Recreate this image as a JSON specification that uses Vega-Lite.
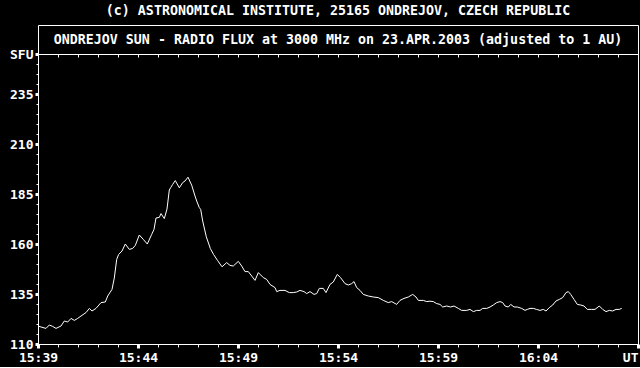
{
  "$schema": "https://vega.github.io/schema/vega-lite/v6.json",
  "background": "black",
  "padding": {"left": 9, "top": 4, "right": 2, "bottom": 2},
  "bounds": "flush",
  "spacing": 0,
  "title": {
    "text": "(c) ASTRONOMICAL INSTITUTE, 25165 ONDREJOV, CZECH REPUBLIC",
    "color": "white",
    "font": "DejaVu Sans Mono",
    "fontSize": 13.3,
    "fontWeight": "bold",
    "offset": 7,
    "anchor": "middle",
    "frame": "group"
  },
  "config": {
    "view": {"stroke": "white", "strokeWidth": 1},
    "font": "DejaVu Sans Mono",
    "axis": {
      "labelFont": "DejaVu Sans Mono",
      "labelFontSize": 13,
      "labelFontWeight": "bold",
      "labelColor": "white",
      "tickColor": "white",
      "domainColor": "white",
      "domainWidth": 1,
      "domain": true,
      "grid": false,
      "title": null,
      "labelOverlap": false,
      "labelFlush": false,
      "labelBound": false
    }
  },
  "vconcat": [
    {
      "width": 600,
      "height": 29,
      "view": {"stroke": "white", "strokeWidth": 1},
      "data": {"values": [{"label": "ONDREJOV SUN - RADIO FLUX at 3000 MHz on 23.APR.2003 (adjusted to 1 AU)"}]},
      "mark": {"type": "text", "color": "white", "font": "DejaVu Sans Mono", "fontSize": 13.3, "fontWeight": "bold"},
      "encoding": {"text": {"field": "label"}}
    },
    {
      "width": 600,
      "height": 290,
      "view": {"stroke": "white", "strokeWidth": 1},
      "data": {"values": [
        {"minute": 0.0, "sfu": 119}, {"minute": 0.15, "sfu": 118.5}, {"minute": 0.4, "sfu": 117.8}, {"minute": 0.565, "sfu": 119.5},
        {"minute": 0.735, "sfu": 118.8}, {"minute": 0.9, "sfu": 117.8}, {"minute": 1.15, "sfu": 119}, {"minute": 1.315, "sfu": 121.5},
        {"minute": 1.485, "sfu": 121}, {"minute": 1.65, "sfu": 122.8}, {"minute": 1.815, "sfu": 121.8}, {"minute": 1.985, "sfu": 122.8},
        {"minute": 2.15, "sfu": 124}, {"minute": 2.4, "sfu": 125.7}, {"minute": 2.565, "sfu": 127.8}, {"minute": 2.7, "sfu": 126.5},
        {"minute": 2.9, "sfu": 127.8}, {"minute": 3.15, "sfu": 130.7}, {"minute": 3.365, "sfu": 131}, {"minute": 3.485, "sfu": 134},
        {"minute": 3.7, "sfu": 137.3}, {"minute": 3.815, "sfu": 143}, {"minute": 3.935, "sfu": 152.3}, {"minute": 4.035, "sfu": 154.8},
        {"minute": 4.2, "sfu": 156.5}, {"minute": 4.365, "sfu": 160}, {"minute": 4.565, "sfu": 157.3}, {"minute": 4.735, "sfu": 157.8},
        {"minute": 4.865, "sfu": 159.3}, {"minute": 5.065, "sfu": 164.5}, {"minute": 5.265, "sfu": 162.3}, {"minute": 5.465, "sfu": 160},
        {"minute": 5.685, "sfu": 164.8}, {"minute": 5.8, "sfu": 167.3}, {"minute": 5.9, "sfu": 173}, {"minute": 6.065, "sfu": 173.3},
        {"minute": 6.15, "sfu": 175.2}, {"minute": 6.315, "sfu": 172.7}, {"minute": 6.45, "sfu": 177.5}, {"minute": 6.565, "sfu": 187},
        {"minute": 6.635, "sfu": 188.2}, {"minute": 6.735, "sfu": 189.8}, {"minute": 6.865, "sfu": 191.7}, {"minute": 7.065, "sfu": 188.1},
        {"minute": 7.235, "sfu": 190.7}, {"minute": 7.35, "sfu": 191.5}, {"minute": 7.5, "sfu": 193.4}, {"minute": 7.685, "sfu": 189.4},
        {"minute": 7.85, "sfu": 184}, {"minute": 7.935, "sfu": 181.5}, {"minute": 8.065, "sfu": 178.2}, {"minute": 8.135, "sfu": 177.3},
        {"minute": 8.235, "sfu": 171.5}, {"minute": 8.415, "sfu": 163.6}, {"minute": 8.615, "sfu": 157.8}, {"minute": 8.775, "sfu": 154.8},
        {"minute": 8.975, "sfu": 151.8}, {"minute": 9.2, "sfu": 148.6}, {"minute": 9.435, "sfu": 150.7}, {"minute": 9.6, "sfu": 149.3},
        {"minute": 9.765, "sfu": 149}, {"minute": 9.85, "sfu": 149.8}, {"minute": 10.015, "sfu": 151.3}, {"minute": 10.185, "sfu": 149},
        {"minute": 10.35, "sfu": 146.2}, {"minute": 10.515, "sfu": 146.2}, {"minute": 10.685, "sfu": 144}, {"minute": 10.85, "sfu": 141.8},
        {"minute": 11.015, "sfu": 145.7}, {"minute": 11.265, "sfu": 143.2}, {"minute": 11.435, "sfu": 142.3}, {"minute": 11.6, "sfu": 139.8},
        {"minute": 11.85, "sfu": 138.2}, {"minute": 11.935, "sfu": 136.2}, {"minute": 12.1, "sfu": 136.8}, {"minute": 12.35, "sfu": 136.8},
        {"minute": 12.565, "sfu": 135.7}, {"minute": 12.765, "sfu": 135.7}, {"minute": 12.935, "sfu": 136}, {"minute": 13.1, "sfu": 136.8},
        {"minute": 13.3, "sfu": 136.2}, {"minute": 13.435, "sfu": 135.2}, {"minute": 13.6, "sfu": 136.2}, {"minute": 13.8, "sfu": 134.8},
        {"minute": 13.935, "sfu": 135.2}, {"minute": 14.065, "sfu": 137.8}, {"minute": 14.265, "sfu": 137.8}, {"minute": 14.4, "sfu": 135.7},
        {"minute": 14.6, "sfu": 139.8}, {"minute": 14.765, "sfu": 141}, {"minute": 14.965, "sfu": 144.8}, {"minute": 15.125, "sfu": 143.2},
        {"minute": 15.35, "sfu": 140.2}, {"minute": 15.515, "sfu": 139.5}, {"minute": 15.685, "sfu": 140.2}, {"minute": 15.8, "sfu": 141.2},
        {"minute": 15.935, "sfu": 138.2}, {"minute": 16.1, "sfu": 136.8}, {"minute": 16.265, "sfu": 134.8}, {"minute": 16.515, "sfu": 134},
        {"minute": 16.765, "sfu": 133.5}, {"minute": 17.015, "sfu": 133.2}, {"minute": 17.265, "sfu": 131.8}, {"minute": 17.515, "sfu": 130.7},
        {"minute": 17.685, "sfu": 131.2}, {"minute": 17.935, "sfu": 129.8}, {"minute": 18.1, "sfu": 131.8}, {"minute": 18.3, "sfu": 132.8},
        {"minute": 18.515, "sfu": 133.5}, {"minute": 18.735, "sfu": 134.8}, {"minute": 18.9, "sfu": 133.5}, {"minute": 19.015, "sfu": 131.8},
        {"minute": 19.265, "sfu": 131.8}, {"minute": 19.435, "sfu": 131.2}, {"minute": 19.6, "sfu": 131.4}, {"minute": 19.765, "sfu": 131.2},
        {"minute": 19.935, "sfu": 130.2}, {"minute": 20.1, "sfu": 129.8}, {"minute": 20.235, "sfu": 128.5}, {"minute": 20.435, "sfu": 129},
        {"minute": 20.635, "sfu": 128.5}, {"minute": 20.8, "sfu": 129}, {"minute": 21.015, "sfu": 127.8}, {"minute": 21.185, "sfu": 126.8},
        {"minute": 21.435, "sfu": 126.8}, {"minute": 21.6, "sfu": 127.3}, {"minute": 21.765, "sfu": 126.2}, {"minute": 21.935, "sfu": 126.8},
        {"minute": 22.1, "sfu": 126.8}, {"minute": 22.235, "sfu": 127.8}, {"minute": 22.435, "sfu": 127.8}, {"minute": 22.6, "sfu": 128.5},
        {"minute": 22.765, "sfu": 129.5}, {"minute": 22.935, "sfu": 130.7}, {"minute": 23.1, "sfu": 131.2}, {"minute": 23.235, "sfu": 130.7},
        {"minute": 23.35, "sfu": 129}, {"minute": 23.515, "sfu": 128.5}, {"minute": 23.635, "sfu": 129.8}, {"minute": 23.8, "sfu": 128.5},
        {"minute": 23.965, "sfu": 128.5}, {"minute": 24.185, "sfu": 127.8}, {"minute": 24.35, "sfu": 126.8}, {"minute": 24.465, "sfu": 127.3},
        {"minute": 24.6, "sfu": 127.8}, {"minute": 24.765, "sfu": 127.8}, {"minute": 24.925, "sfu": 127.3}, {"minute": 25.1, "sfu": 126.8},
        {"minute": 25.265, "sfu": 127.3}, {"minute": 25.4, "sfu": 126.5}, {"minute": 25.565, "sfu": 128.2}, {"minute": 25.735, "sfu": 129.5},
        {"minute": 25.9, "sfu": 131.5}, {"minute": 26.065, "sfu": 132.3}, {"minute": 26.235, "sfu": 133.2}, {"minute": 26.4, "sfu": 135.7},
        {"minute": 26.515, "sfu": 136.2}, {"minute": 26.635, "sfu": 134.8}, {"minute": 26.8, "sfu": 132.3}, {"minute": 26.965, "sfu": 129.8},
        {"minute": 27.135, "sfu": 129.5}, {"minute": 27.3, "sfu": 129}, {"minute": 27.465, "sfu": 127.3}, {"minute": 27.685, "sfu": 127.3},
        {"minute": 27.85, "sfu": 127.3}, {"minute": 28.065, "sfu": 129}, {"minute": 28.235, "sfu": 127.3}, {"minute": 28.4, "sfu": 126.2},
        {"minute": 28.565, "sfu": 126.8}, {"minute": 28.735, "sfu": 126.5}, {"minute": 28.9, "sfu": 127.3}, {"minute": 29.065, "sfu": 127.3},
        {"minute": 29.185, "sfu": 127.8}
      ]},
      "resolve": {"axis": {"x": "independent", "y": "independent"}},
      "layer": [
        {
          "mark": {"type": "line", "color": "white", "strokeWidth": 1},
          "encoding": {
            "x": {
              "field": "minute", "type": "quantitative",
              "scale": {"domain": [0, 30], "nice": false, "zero": false},
              "axis": {
                "orient": "bottom",
                "values": [0, 5, 10, 15, 20, 25, 30],
                "labelExpr": "['15:39','15:44','15:49','15:54','15:59','16:04','UT'][round(datum.value/5)]",
                "labelAlign": {"condition": {"test": "datum.value == 30", "value": "right"}, "value": "center"},
                "tickSize": 4, "tickWidth": 3, "labelPadding": 3
              }
            },
            "y": {
              "field": "sfu", "type": "quantitative",
              "scale": {"domain": [110, 255], "nice": false, "zero": false},
              "axis": {
                "orient": "left",
                "values": [110, 135, 160, 185, 210, 235, 255],
                "labelExpr": "datum.value == 255 ? 'SFU' : datum.label",
                "tickSize": 3, "tickWidth": 3, "labelPadding": 2
              }
            }
          }
        },
        {
          "mark": {"type": "line", "strokeOpacity": 0},
          "encoding": {
            "x": {
              "field": "minute", "type": "quantitative",
              "axis": {
                "orient": "bottom",
                "values": [0, 1, 2, 3, 4, 5, 6, 7, 8, 9, 10, 11, 12, 13, 14, 15, 16, 17, 18, 19, 20, 21, 22, 23, 24, 25, 26, 27, 28, 29, 30],
                "labels": false, "tickSize": 3, "tickWidth": 1
              }
            },
            "y": {
              "field": "sfu", "type": "quantitative",
              "axis": {
                "orient": "left",
                "values": [110, 115, 120, 125, 130, 135, 140, 145, 150, 155, 160, 165, 170, 175, 180, 185, 190, 195, 200, 205, 210, 215, 220, 225, 230, 235, 240, 245, 250, 255],
                "labels": false, "tickSize": 2, "tickWidth": 1
              }
            }
          }
        },
        {
          "mark": {"type": "line", "strokeOpacity": 0},
          "encoding": {
            "x": {
              "field": "minute", "type": "quantitative",
              "axis": {
                "orient": "top",
                "values": [0, 1, 2, 3, 4, 5, 6, 7, 8, 9, 10, 11, 12, 13, 14, 15, 16, 17, 18, 19, 20, 21, 22, 23, 24, 25, 26, 27, 28, 29, 30],
                "labels": false, "tickSize": -3, "tickWidth": 1
              }
            },
            "y": {
              "field": "sfu", "type": "quantitative",
              "axis": {"orient": "right", "labels": false, "ticks": false}
            }
          }
        }
      ]
    }
  ]
}
